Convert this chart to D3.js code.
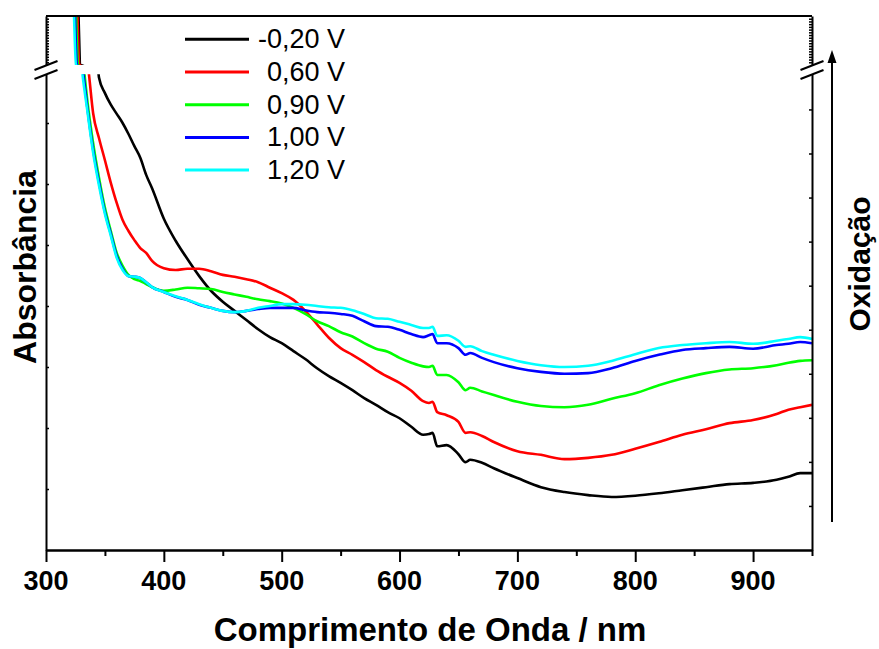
<!DOCTYPE html>
<html><head><meta charset="utf-8">
<script src="https://cdn.jsdelivr.net/npm/d3@7"></script>
<style>body{margin:0;background:#fff} svg{display:block} text{font-family:"Liberation Sans",Arial,sans-serif}</style>
</head><body><svg id="c" width="879" height="649"></svg>
<script>
// ---------- data ----------
const seriesNames = ["-0,20 V", "0,60 V", "0,90 V", "1,00 V", "1,20 V"];
const xMajorTicks = [300, 400, 500, 600, 700, 800, 900];
const xMinorTicks = [350, 450, 550, 650, 750, 850, 950];
const xTitle = "Comprimento de Onda / nm";
const yTitle = "Absorbância";
const arrowLabel = "Oxidação";

// wavelength grid (nm) shared by all series below the axis break
const wavelength = [345,350,355,360,365,370,375,380,385,390,
  400,410,420,430,440,450,460,470,480,490,500,510,520,530,540,550,560,570,580,590,600,610,620,
  625,628,632,640,650,656,660,670,680,
  700,720,740,760,780,800,820,840,860,880,900,920,930,940,950];

// steep start of each series (through the axis break): [nm, absorbance]
const headBlack = [[327.6,2.6],[329.3,0.80],[344.0,0.79]];
const headRed   = [[326.7,2.6],[328.4,0.80],[336.0,0.79],[336.5,0.779],[340,0.716]];
const headGreen = [[325.5,2.6],[327.2,0.80],[332.2,0.79],[332.7,0.779],[335,0.738],[340,0.667]];
const headBlue  = [[324.6,2.6],[326.3,0.80],[331.3,0.79],[331.8,0.779],[335,0.726],[340,0.656]];
const headCyan  = [[323.8,2.6],[325.5,0.80],[330.5,0.79],[331.0,0.779],[335,0.721],[340,0.651]];

const absBlack = [0.774,0.749,0.730,0.715,0.700,0.682,0.662,0.643,0.615,0.593,
  0.543,0.507,0.477,0.449,0.425,0.407,0.392,0.377,0.362,0.349,0.339,0.326,0.313,0.298,0.285,0.274,0.262,0.249,0.238,0.226,0.216,0.202,0.189,
  0.190,0.192,0.170,0.172,0.157,0.144,0.148,0.143,0.134,
  0.118,0.103,0.095,0.090,0.087,0.089,0.093,0.098,0.103,0.108,0.110,0.115,0.120,0.126,0.126];
const absRed = [0.675,0.639,0.602,0.569,0.541,0.523,0.508,0.495,0.487,0.474,
  0.462,0.459,0.461,0.461,0.457,0.451,0.448,0.444,0.439,0.430,0.421,0.410,0.392,0.370,0.348,0.331,0.320,0.308,0.295,0.284,0.274,0.261,0.244,
  0.241,0.243,0.226,0.221,0.210,0.192,0.193,0.187,0.177,
  0.162,0.156,0.149,0.151,0.156,0.166,0.177,0.189,0.198,0.208,0.213,0.223,0.230,0.234,0.238];
const absGreen = [0.610,0.561,0.523,0.487,0.466,0.451,0.444,0.441,0.436,0.431,
  0.425,0.427,0.430,0.429,0.428,0.423,0.419,0.415,0.411,0.408,0.404,0.397,0.387,0.375,0.367,0.357,0.350,0.339,0.330,0.325,0.315,0.307,0.301,
  0.300,0.302,0.287,0.287,0.275,0.262,0.266,0.260,0.254,
  0.243,0.236,0.234,0.238,0.248,0.257,0.270,0.281,0.290,0.296,0.298,0.303,0.307,0.310,0.311];
const absBlue = [0.602,0.554,0.518,0.482,0.461,0.449,0.448,0.446,0.439,0.431,
  0.423,0.415,0.410,0.402,0.397,0.392,0.390,0.392,0.395,0.397,0.397,0.397,0.393,0.390,0.389,0.387,0.384,0.375,0.367,0.366,0.361,0.354,0.349,
  0.352,0.354,0.339,0.339,0.331,0.320,0.323,0.315,0.308,
  0.298,0.292,0.289,0.290,0.298,0.310,0.320,0.328,0.331,0.333,0.330,0.336,0.338,0.341,0.339];
const absCyan = [0.597,0.551,0.515,0.479,0.459,0.449,0.448,0.446,0.439,0.431,
  0.423,0.416,0.410,0.403,0.397,0.392,0.390,0.392,0.397,0.400,0.403,0.403,0.402,0.400,0.398,0.397,0.393,0.387,0.380,0.379,0.374,0.369,0.364,
  0.364,0.366,0.351,0.352,0.343,0.333,0.334,0.326,0.320,
  0.310,0.303,0.300,0.302,0.310,0.321,0.331,0.336,0.339,0.341,0.338,0.343,0.346,0.349,0.346];

// unlabeled y tick positions
const yLowerTicks = [0.1,0.2,0.3,0.4,0.5,0.6,0.7];
const yUpperTicks = [0.9,1.0,1.1,1.2,1.3,1.4,1.5,1.6,1.7,1.8,1.9,2.0,2.1,2.2,2.3,2.4,2.5];
const yRightTicks = [1,2,3,4,5,6,7,8,9,10];

// ---------- layout / style ----------
const L = 46, R = 812, T = 16, B = 550;
const breakLow = 74.2, breakHigh = 65;
const colors = ["#000000", "#ff0000", "#00ff00", "#0000ff", "#00ffff"];

const svg = d3.select("#c");
const x = d3.scaleLinear().domain([300, 950]).range([L, R]);
const y = d3.scaleLinear().domain([0, 0.78, 0.80, 2.6]).range([B, breakLow, breakHigh, T]);
const yLow = d3.scaleLinear().domain([0, 0.78]).range([B, breakLow]);
const yUp = d3.scaleLinear().domain([0.80, 2.6]).range([breakHigh, T]);
const yRight = d3.scaleLinear().domain([0, 10.8]).range([B, breakLow]);

const heads = [headBlack, headRed, headGreen, headBlue, headCyan];
const bodies = [absBlack, absRed, absGreen, absBlue, absCyan];
const series = seriesNames.map((name, i) => ({
  name, color: colors[i],
  points: heads[i].concat(wavelength.map((w, j) => [w, bodies[i][j]]))
}));

// clip: two plot bands (above and below the break)
const defs = svg.append("defs");
const cp = defs.append("clipPath").attr("id", "plotclip");
cp.append("rect").attr("x", L).attr("y", T).attr("width", R - L).attr("height", breakHigh - T);
cp.append("rect").attr("x", L).attr("y", breakLow).attr("width", R - L).attr("height", B - breakLow);

const line = d3.line().x(d => x(d[0])).y(d => y(d[1])).curve(d3.curveMonotoneX);
svg.append("g").attr("clip-path", "url(#plotclip)")
  .selectAll("path").data(series).join("path")
  .attr("d", d => line(d.points))
  .attr("fill", "none").attr("stroke", d => d.color)
  .attr("stroke-width", 2.6).attr("stroke-linejoin", "round");

// ---------- axes ----------
const ax = svg.append("g").attr("stroke", "#000").attr("fill", "none").attr("stroke-width", 2);
// bottom
const xb = svg.append("g").attr("transform", `translate(0,${B})`);
xb.call(d3.axisBottom(x).tickValues(xMajorTicks).tickSize(12).tickSizeOuter(0).tickFormat(""));
xb.append("g").call(d3.axisBottom(x).tickValues(xMinorTicks).tickSize(6).tickSizeOuter(0).tickFormat(""));
xb.selectAll("path,line").attr("stroke", "#000").attr("stroke-width", 2);
xb.append("g").selectAll("text").data(xMajorTicks).join("text")
  .attr("x", d => x(d)).attr("y", 40).attr("text-anchor", "middle")
  .attr("font-size", 27).attr("font-weight", "bold").attr("fill", "#000").text(d => d);

// top frame line
ax.append("line").attr("x1", L).attr("x2", R).attr("y1", T).attr("y2", T);

function yAxis(xpos, scale, ticks, gen) {
  const g = svg.append("g").attr("transform", `translate(${xpos},0)`);
  g.call(gen(scale).tickValues(ticks).tickSize(3).tickSizeOuter(0).tickFormat(""));
  g.selectAll("path").attr("stroke", "#000").attr("stroke-width", 2);
  g.selectAll("line").attr("stroke", "#000").attr("stroke-width", 1.5);
}
yAxis(L, yLow, yLowerTicks, d3.axisRight);
yAxis(L, yUp, yUpperTicks, d3.axisRight);
yAxis(R, yRight, yRightTicks, d3.axisLeft);
yAxis(R, yUp, yUpperTicks, d3.axisLeft);

// axis break marks
[L, R].forEach(cx => {
  [0, 9].forEach(off => {
    ax.append("line").attr("x1", cx - 11.5).attr("y1", 70 + off)
      .attr("x2", cx + 11.5).attr("y2", 61 + off);
  });
});

// oxidation arrow
ax.append("line").attr("x1", 832).attr("x2", 832).attr("y1", 522).attr("y2", 60);
svg.append("path").attr("d", "M832,50 L827.5,63 L836.5,63 Z").attr("fill", "#000");

// titles
svg.append("text").attr("x", 430).attr("y", 641).attr("text-anchor", "middle")
  .attr("font-size", 33).attr("font-weight", "bold").text(xTitle);
svg.append("text").attr("transform", "translate(36,267) rotate(-90)").attr("text-anchor", "middle")
  .attr("font-size", 32).attr("font-weight", "bold").text(yTitle);
svg.append("text").attr("transform", "translate(870,264) rotate(-90)").attr("text-anchor", "middle")
  .attr("font-size", 30).attr("font-weight", "bold").text(arrowLabel);

// legend
const lg = svg.append("g").selectAll("g").data(series).join("g")
  .attr("transform", (d, i) => `translate(0,${39.3 + i * 32.7})`);
lg.append("line").attr("x1", 185).attr("x2", 249).attr("y1", 0).attr("y2", 0)
  .attr("stroke", d => d.color).attr("stroke-width", 3);
lg.append("text").attr("x", 345).attr("y", 9).attr("text-anchor", "end")
  .attr("font-size", 27).attr("fill", "#000").text(d => d.name);
</script></body></html>
